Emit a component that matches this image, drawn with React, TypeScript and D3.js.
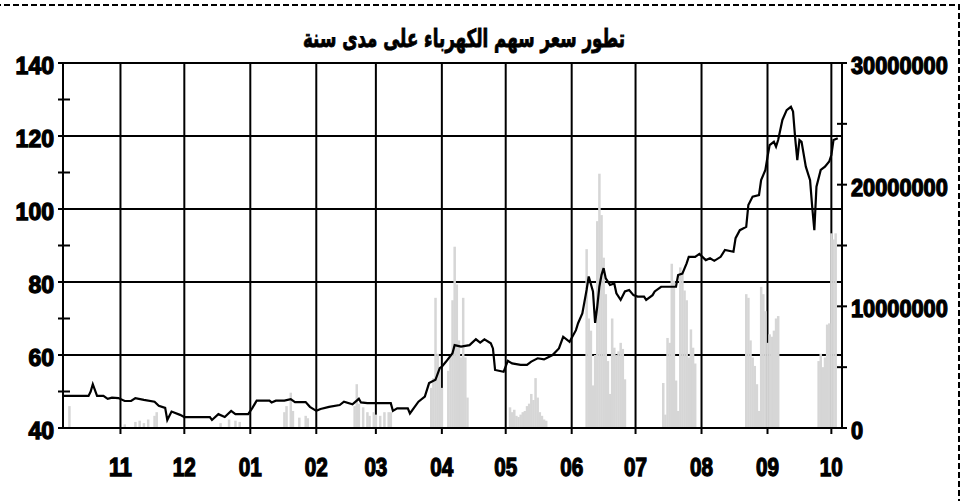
import * as d3 from 'd3';

const title = 'تطور سعر سهم الكهرباء على مدى سنة';

// price axis (left) and volume axis (right)
const priceTicks = [40, 60, 80, 100, 120, 140];
const priceMinorTicks = [50, 70, 90, 110, 130];
const volumeTicks = [0, 10000000, 20000000, 30000000];
const volumeAllTicks = [0, 5000000, 10000000, 15000000, 20000000, 25000000, 30000000];
const monthTicks = [
  '2004-11-01', '2004-12-01', '2005-01-01', '2005-02-01', '2005-03-01', '2005-04-01',
  '2005-05-01', '2005-06-01', '2005-07-01', '2005-08-01', '2005-09-01', '2005-10-01',
];
const dateRange = ['2004-10-05', '2005-10-06'];

// closing price
const prices: [string, number][] = [
  ['2004-10-05', 48.8], ['2004-10-17', 48.8], ['2004-10-18', 50.0], ['2004-10-19', 52.0],
  ['2004-10-21', 48.8], ['2004-10-24', 48.8], ['2004-10-26', 48.0], ['2004-10-28', 48.3],
  ['2004-10-31', 48.2], ['2004-11-03', 47.4], ['2004-11-06', 47.4], ['2004-11-08', 48.2],
  ['2004-11-12', 47.7], ['2004-11-17', 47.2], ['2004-11-19', 46.1], ['2004-11-22', 45.5],
  ['2004-11-23', 42.2], ['2004-11-25', 44.5], ['2004-11-29', 43.6], ['2004-12-01', 43.0],
  ['2004-12-13', 43.0], ['2004-12-14', 42.2], ['2004-12-17', 43.8], ['2004-12-20', 43.0],
  ['2004-12-23', 44.7], ['2004-12-25', 43.8], ['2004-12-31', 43.8], ['2005-01-02', 45.5],
  ['2005-01-04', 47.5], ['2005-01-10', 47.5], ['2005-01-11', 47.0], ['2005-01-13', 47.5],
  ['2005-01-17', 47.5], ['2005-01-20', 47.9], ['2005-01-22', 47.1], ['2005-01-27', 47.1],
  ['2005-01-29', 45.8], ['2005-02-01', 44.7], ['2005-02-03', 45.2], ['2005-02-07', 45.8],
  ['2005-02-12', 46.3], ['2005-02-14', 47.2], ['2005-02-18', 46.5], ['2005-02-21', 48.0],
  ['2005-02-22', 47.0], ['2005-02-25', 46.8], ['2005-03-08', 46.8], ['2005-03-09', 44.7],
  ['2005-03-11', 45.4], ['2005-03-16', 45.4], ['2005-03-17', 44.0], ['2005-03-21', 47.2],
  ['2005-03-24', 48.6], ['2005-03-26', 52.3], ['2005-03-29', 53.2], ['2005-03-31', 56.4],
  ['2005-04-01', 56.8], ['2005-04-03', 58.2], ['2005-04-06', 60.5], ['2005-04-07', 62.7],
  ['2005-04-10', 62.3], ['2005-04-14', 62.7], ['2005-04-17', 64.3], ['2005-04-19', 63.4],
  ['2005-04-21', 64.3], ['2005-04-24', 63.2], ['2005-04-25', 61.8], ['2005-04-26', 55.9],
  ['2005-04-30', 55.4], ['2005-05-02', 58.4], ['2005-05-04', 57.7], ['2005-05-08', 57.3],
  ['2005-05-11', 57.3], ['2005-05-13', 58.2], ['2005-05-16', 59.1], ['2005-05-19', 58.8],
  ['2005-05-23', 60.0], ['2005-05-26', 61.8], ['2005-05-28', 65.0], ['2005-05-31', 63.6],
  ['2005-06-03', 66.8], ['2005-06-04', 68.7], ['2005-06-06', 71.4], ['2005-06-08', 77.8],
  ['2005-06-09', 81.5], ['2005-06-11', 77.4], ['2005-06-12', 68.8], ['2005-06-13', 73.2],
  ['2005-06-14', 78.7], ['2005-06-15', 81.9], ['2005-06-16', 83.8], ['2005-06-17', 81.0],
  ['2005-06-19', 79.2], ['2005-06-21', 79.6], ['2005-06-22', 76.9], ['2005-06-24', 75.1],
  ['2005-06-26', 77.4], ['2005-06-28', 77.8], ['2005-06-30', 76.4], ['2005-07-02', 76.0],
  ['2005-07-05', 76.0], ['2005-07-06', 75.1], ['2005-07-09', 76.4], ['2005-07-10', 77.4],
  ['2005-07-13', 78.7], ['2005-07-20', 78.7], ['2005-07-21', 81.9], ['2005-07-23', 82.3],
  ['2005-07-25', 85.1], ['2005-07-26', 86.9], ['2005-07-29', 86.9], ['2005-07-31', 87.7],
  ['2005-08-03', 86.0], ['2005-08-05', 86.5], ['2005-08-07', 85.8], ['2005-08-10', 86.9],
  ['2005-08-12', 88.8], ['2005-08-16', 88.3], ['2005-08-17', 92.0], ['2005-08-19', 94.2],
  ['2005-08-22', 95.1], ['2005-08-23', 101.1], ['2005-08-25', 103.4], ['2005-08-28', 103.8],
  ['2005-08-29', 107.9], ['2005-08-31', 110.7], ['2005-09-01', 114.3], ['2005-09-02', 117.5],
  ['2005-09-04', 118.4], ['2005-09-05', 117.1], ['2005-09-06', 118.9], ['2005-09-08', 124.4],
  ['2005-09-10', 127.1], ['2005-09-12', 128.0], ['2005-09-13', 126.7], ['2005-09-14', 119.4],
  ['2005-09-15', 113.4], ['2005-09-16', 118.9], ['2005-09-17', 118.4], ['2005-09-19', 111.6],
  ['2005-09-21', 107.9], ['2005-09-22', 100.6], ['2005-09-23', 94.2], ['2005-09-24', 106.1],
  ['2005-09-26', 110.7], ['2005-09-28', 111.6], ['2005-09-30', 113.0], ['2005-10-01', 114.8],
  ['2005-10-02', 118.9], ['2005-10-04', 119.4],
];

// traded volume (shares)
const volumes: [string, number][] = [
  ['2004-10-08', 1800000],
  ['2004-11-03', 300000], ['2004-11-08', 500000], ['2004-11-10', 600000], ['2004-11-12', 400000],
  ['2004-11-14', 700000], ['2004-11-17', 1000000], ['2004-11-18', 1300000],
  ['2004-12-18', 400000], ['2004-12-22', 700000], ['2004-12-25', 600000], ['2004-12-27', 500000],
  ['2005-01-17', 1300000], ['2005-01-18', 1800000], ['2005-01-20', 2900000], ['2005-01-21', 1400000],
  ['2005-01-24', 850000], ['2005-01-27', 1000000], ['2005-01-28', 800000],
  ['2005-02-19', 1800000], ['2005-02-20', 3600000], ['2005-02-21', 2000000], ['2005-02-23', 1700000],
  ['2005-02-25', 1300000], ['2005-02-26', 1000000], ['2005-02-28', 1300000], ['2005-03-01', 1100000],
  ['2005-03-03', 1000000], ['2005-03-05', 1300000], ['2005-03-07', 1300000], ['2005-03-08', 1300000],
  ['2005-03-27', 3300000], ['2005-03-28', 4100000], ['2005-03-29', 10700000], ['2005-03-30', 6100000],
  ['2005-03-31', 5000000], ['2005-04-01', 3300000], ['2005-04-04', 4700000], ['2005-04-05', 5800000],
  ['2005-04-06', 10500000], ['2005-04-07', 14900000], ['2005-04-08', 11800000], ['2005-04-09', 7200000],
  ['2005-04-10', 5800000], ['2005-04-11', 10700000], ['2005-04-12', 5800000], ['2005-04-13', 2500000],
  ['2005-05-03', 1700000], ['2005-05-04', 1300000], ['2005-05-05', 1500000], ['2005-05-06', 1000000],
  ['2005-05-07', 900000], ['2005-05-08', 1100000], ['2005-05-09', 1300000], ['2005-05-10', 1400000],
  ['2005-05-11', 1800000], ['2005-05-12', 2000000], ['2005-05-13', 2800000], ['2005-05-14', 2300000],
  ['2005-05-15', 4100000], ['2005-05-16', 2500000], ['2005-05-17', 1300000], ['2005-05-18', 1000000],
  ['2005-05-19', 700000], ['2005-05-20', 600000],
  ['2005-06-08', 14700000], ['2005-06-09', 9000000], ['2005-06-10', 8000000], ['2005-06-11', 3500000],
  ['2005-06-12', 6000000], ['2005-06-13', 17000000], ['2005-06-14', 20900000], ['2005-06-15', 17500000],
  ['2005-06-16', 14000000], ['2005-06-17', 11000000], ['2005-06-18', 5500000], ['2005-06-19', 2800000],
  ['2005-06-20', 9000000], ['2005-06-21', 6600000], ['2005-06-22', 6000000], ['2005-06-23', 6300000],
  ['2005-06-24', 7000000], ['2005-06-25', 6500000], ['2005-06-26', 4000000],
  ['2005-07-14', 3700000], ['2005-07-15', 1100000], ['2005-07-16', 7400000], ['2005-07-17', 7000000],
  ['2005-07-18', 13500000], ['2005-07-19', 12100000], ['2005-07-20', 3900000], ['2005-07-21', 1400000],
  ['2005-07-22', 13200000], ['2005-07-23', 12700000], ['2005-07-24', 11300000], ['2005-07-25', 10500000],
  ['2005-07-26', 5800000], ['2005-07-27', 8100000], ['2005-07-28', 6600000], ['2005-07-29', 5300000],
  ['2005-08-22', 11000000], ['2005-08-23', 10700000], ['2005-08-24', 7200000], ['2005-08-25', 5800000],
  ['2005-08-26', 5100000], ['2005-08-27', 3600000], ['2005-08-28', 1400000], ['2005-08-29', 11600000],
  ['2005-08-30', 11000000], ['2005-08-31', 9600000], ['2005-09-01', 7000000], ['2005-09-02', 7700000],
  ['2005-09-03', 7500000], ['2005-09-04', 8000000], ['2005-09-05', 9000000], ['2005-09-06', 9200000],
  ['2005-09-25', 5500000], ['2005-09-26', 6100000], ['2005-09-27', 5000000], ['2005-09-28', 5800000],
  ['2005-09-29', 8500000], ['2005-09-30', 8600000], ['2005-10-01', 16000000], ['2005-10-02', 15500000],
  ['2005-10-03', 16000000],
];

const W = 966;
const H = 501;
const left = 63;
const right = 842;
const top = 63;
const bottom = 428;

const parse = d3.timeParse('%Y-%m-%d');
const fmtMonth = d3.timeFormat('%m');
const labelFont = 'Liberation Sans, Arial, sans-serif';

export default function App() {
  const x = d3.scaleTime()
    .domain(dateRange.map(d => parse(d) as Date))
    .range([left, right]);
  const y = d3.scaleLinear().domain([40, 140]).range([bottom, top]);
  const yv = d3.scaleLinear().domain([0, 30000000]).range([bottom, top]);

  const line = d3.line<[string, number]>()
    .x(d => x(parse(d[0]) as Date))
    .y(d => y(d[1]));

  const months = monthTicks.map(d => parse(d) as Date);

  // heavy label look
  const heavy = { fontFamily: labelFont, fontWeight: 'bold' as const, stroke: '#000', strokeWidth: 1.3 };

  return (
    <svg width={W} height={H} style={{ position: 'absolute', left: 0, top: 0, background: '#fff' }}>
      {/* grid */}
      {priceTicks.map(t => (
        <line key={'h' + t} x1={left} x2={right} y1={y(t)} y2={y(t)} stroke="#000" strokeWidth={2} />
      ))}
      {months.map((m, i) => (
        <line key={'v' + i} x1={x(m)} x2={x(m)} y1={top} y2={bottom} stroke="#000" strokeWidth={2} />
      ))}

      {/* volume bars */}
      {volumes.map(([d, v]) => (
        <rect key={'b' + d} x={x(parse(d) as Date) - 1.2} y={yv(v)} width={2.5} height={bottom - yv(v)} fill="#d6d6d6" />
      ))}

      {/* price line */}
      <path d={line(prices) as string} fill="none" stroke="#000" strokeWidth={2.2} strokeLinejoin="miter" />

      {/* frame */}
      <line x1={58} x2={847} y1={top} y2={top} stroke="#000" strokeWidth={2} />
      <line x1={left} x2={left} y1={top} y2={bottom} stroke="#000" strokeWidth={2} />
      <line x1={right} x2={right} y1={top} y2={bottom} stroke="#000" strokeWidth={2} />
      <line x1={58} x2={847} y1={bottom} y2={bottom} stroke="#000" strokeWidth={2} />

      {/* left axis */}
      {priceTicks.map(t => (
        <g key={'lt' + t}>
          <line x1={58} x2={left} y1={y(t)} y2={y(t)} stroke="#000" strokeWidth={2} />
          <text x={54} y={y(t) + 11} textAnchor="end" {...heavy}
            fontSize={24} textLength={String(t).length * 12.8} lengthAdjust="spacingAndGlyphs">{t}</text>
        </g>
      ))}
      {priceMinorTicks.map(t => (
        <line key={'lm' + t} x1={58} x2={70} y1={y(t)} y2={y(t)} stroke="#000" strokeWidth={2} />
      ))}

      {/* right axis */}
      {volumeAllTicks.map(t => (
        <line key={'rt' + t} x1={837} x2={847} y1={yv(t)} y2={yv(t)} stroke="#000" strokeWidth={2} />
      ))}
      {volumeTicks.map(t => (
        <text key={'rl' + t} x={851} y={yv(t) + 11} textAnchor="start" {...heavy}
          fontSize={24} textLength={String(t).length * 12.1} lengthAdjust="spacingAndGlyphs">{t}</text>
      ))}

      {/* bottom axis */}
      {months.map((m, i) => (
        <g key={'bt' + i}>
          <line x1={x(m)} x2={x(m)} y1={bottom} y2={bottom + 6} stroke="#000" strokeWidth={2} />
          <text x={x(m)} y={476} textAnchor="middle" {...heavy}
            fontSize={25} textLength={23} lengthAdjust="spacingAndGlyphs">{fmtMonth(m)}</text>
        </g>
      ))}

      {/* title */}
      <text x={464} y={47} textAnchor="middle" fontFamily="DejaVu Sans, sans-serif" fontWeight="bold"
        fontSize={25} stroke="#000" strokeWidth={0.9} direction="rtl"
        textLength={322} lengthAdjust="spacingAndGlyphs">{title}</text>

      {/* dashed border */}
      <rect x={-5} y={5} width={964} height={520} fill="none" stroke="#000" strokeWidth={2} strokeDasharray="6,3" />
    </svg>
  );
}
